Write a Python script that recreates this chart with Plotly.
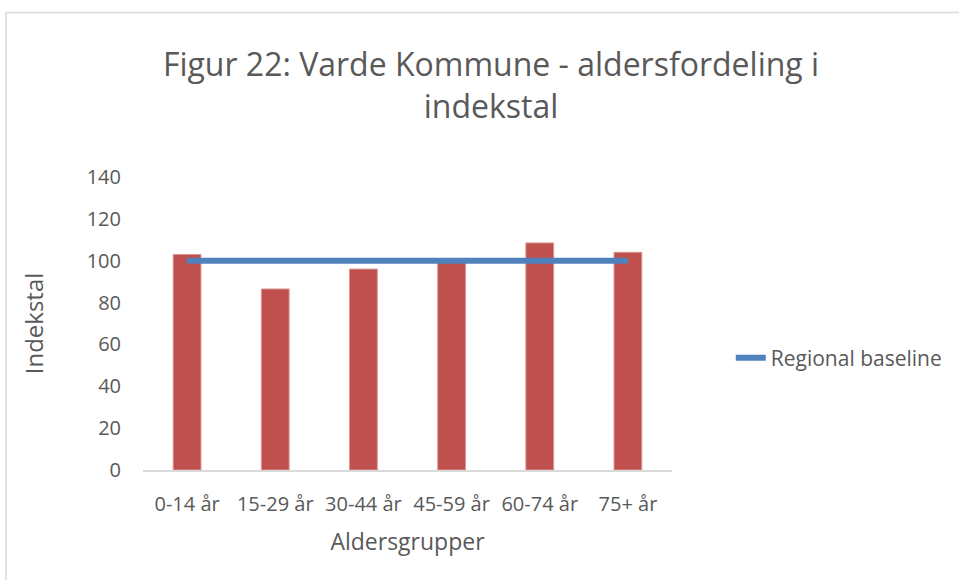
import plotly.graph_objects as go

categories = ["0-14 år", "15-29 år", "30-44 år", "45-59 år", "60-74 år", "75+ år"]
index_values = [103, 86.5, 96, 101, 108.5, 104]
baseline_values = [100, 100, 100, 100, 100, 100]
y_ticks = [0, 20, 40, 60, 80, 100, 120, 140]

W, H = 959, 580
L, R, T, B = 143, 674, 177, 470

fig = go.Figure()
fig.add_trace(go.Bar(
    x=categories, y=index_values, name="Indekstal",
    marker=dict(color="#C0504D", line=dict(color="#D99694", width=1)),
    showlegend=False,
))
fig.add_trace(go.Scatter(
    x=categories, y=baseline_values, name="Regional baseline",
    mode="lines", line=dict(color="#4F81BD", width=6),
))

font_fam = "Open Sans, Liberation Sans, sans-serif"
fig.update_layout(
    width=W, height=H,
    margin=dict(l=L, r=W - R, t=T, b=H - B, pad=0),
    paper_bgcolor="white", plot_bgcolor="white",
    bargap=0.685,
    font=dict(family=font_fam, color="#595959", size=20),
    title=dict(
        text="Figur 22: Varde Kommune - aldersfordeling i<br>indekstal",
        x=491 / W, xref="container", xanchor="center",
        y=1 - 76 / H, yref="container", yanchor="middle",
        font=dict(size=32, color="#595959", family=font_fam),
    ),
    xaxis=dict(
        showline=True, linecolor="#D9D9D9", linewidth=1.5,
        showgrid=False, ticks="", ticklabelstandoff=15,
        tickfont=dict(size=20),
        title=dict(text="Aldersgrupper", font=dict(size=23), standoff=18),
    ),
    yaxis=dict(
        range=[0, 140], tickvals=y_ticks, showgrid=False, zeroline=False,
        showline=False, ticks="", ticklabelstandoff=21,
        tickfont=dict(size=20),
        title=dict(text="Indekstal", font=dict(size=24), standoff=36),
    ),
    legend=dict(
        x=(733 - L) / (R - L), y=(B - 358) / (B - T), xanchor="left", yanchor="middle",
        font=dict(size=21, color="#595959"), bgcolor="rgba(0,0,0,0)",
    ),
    shapes=[dict(
        type="rect", xref="paper", yref="paper",
        x0=(5.5 - L) / (R - L), x1=(1000 - L) / (R - L),
        y0=(B - 640) / (B - T), y1=(B - 12.5) / (B - T),
        line=dict(color="#D9D9D9", width=1.5), fillcolor="rgba(0,0,0,0)", layer="below",
    )],
)

fig.write_html("out.html", config={"displayModeBar": False},
               post_script="document.body.style.margin='0';")
